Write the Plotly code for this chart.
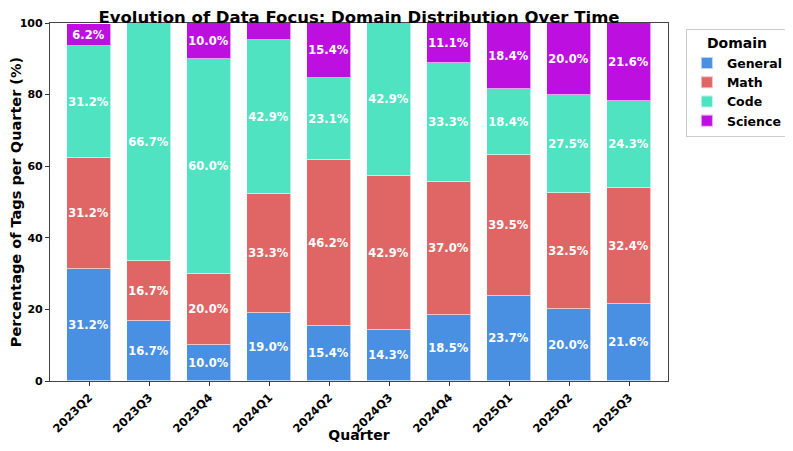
import plotly.graph_objects as go

quarters = ["2023Q2", "2023Q3", "2023Q4", "2024Q1", "2024Q2", "2024Q3", "2024Q4", "2025Q1", "2025Q2", "2025Q3"]
general = [31.2, 16.7, 10.0, 19.0, 15.4, 14.3, 18.5, 23.7, 20.0, 21.6]
math_ = [31.2, 16.7, 20.0, 33.3, 46.2, 42.9, 37.0, 39.5, 32.5, 32.4]
code = [31.2, 66.7, 60.0, 42.9, 23.1, 42.9, 33.3, 18.4, 27.5, 24.3]
science = [6.2, 0.0, 10.0, 4.8, 15.4, 0.0, 11.1, 18.4, 20.0, 21.6]

series = [
    ("General", general, "#4A90E2"),
    ("Math", math_, "#E06666"),
    ("Code", code, "#50E3C2"),
    ("Science", science, "#BD10E0"),
]

FONT = "DejaVu Sans"
# the page body adds an 8px offset; figure coordinates are page coordinates minus 8
W, H = 785, 435
L, R, T, B = 42, 125, 15, 62

fig = go.Figure()
for name, vals, color in series:
    fig.add_trace(go.Bar(
        name=name,
        x=list(range(len(quarters))),
        y=vals,
        width=0.74,
        marker=dict(color=color, line=dict(color="rgba(255,255,255,0.6)", width=1)),
        text=[f"<b>{v:.1f}%</b>" if v >= 5 else "" for v in vals],
        textposition="inside",
        insidetextanchor="middle",
        textangle=0,
        textfont=dict(family=FONT, size=11.5, color="white"),
        constraintext="none",
        hoverinfo="skip",
    ))

fig.update_layout(
    barmode="stack",
    width=W, height=H,
    margin=dict(l=L, r=R, t=T, b=B, autoexpand=False),
    paper_bgcolor="white",
    plot_bgcolor="white",
    font=dict(family=FONT, color="black"),
    title=dict(
        text="<b>Evolution of Data Focus: Domain Distribution Over Time</b>",
        font=dict(family=FONT, size=16.5, color="black"),
        x=351 / W, xanchor="center",
        y=1 - 3 / H, yanchor="top",
        automargin=False,
    ),
    legend=dict(
        title=dict(text="<b>Domain</b>", font=dict(family=FONT, size=14), side="top center"),
        font=dict(family=FONT, size=12.5, color="black", weight="bold"),
        x=1.029, y=0.983, xanchor="left", yanchor="top",
        bordercolor="#cccccc", borderwidth=1,
        bgcolor="white",
        traceorder="normal",
        itemsizing="constant",
        tracegroupgap=0,
    ),
    bargap=0,
)

fig.update_xaxes(
    range=[-0.65, 9.65],
    tickmode="array",
    tickvals=list(range(len(quarters))),
    ticktext=[f"<b>{q}</b>" for q in quarters],
    tickangle=-45,
    tickfont=dict(family=FONT, size=11.5, color="black"),
    ticks="outside", ticklen=4, tickcolor="#333333",
    showline=True, linecolor="#444444", linewidth=1.2, mirror=True,
    showgrid=False, zeroline=False, automargin=False,
    title=dict(text="<b>Quarter</b>", font=dict(family=FONT, size=14, color="black"), standoff=0),
)
fig.update_yaxes(
    range=[0, 100],
    tickmode="array",
    tickvals=[0, 20, 40, 60, 80, 100],
    ticktext=[f"<b>{v}</b>" for v in [0, 20, 40, 60, 80, 100]],
    tickfont=dict(family=FONT, size=11, color="black"),
    ticks="outside", ticklen=4, tickcolor="#333333",
    showline=True, linecolor="#444444", linewidth=1.2, mirror=True,
    showgrid=False, zeroline=False, automargin=False,
    title=dict(text="<b>Percentage of Tags per Quarter (%)</b>", font=dict(family=FONT, size=14.5, color="black"), standoff=0),
)

fig.write_html("out.html")
